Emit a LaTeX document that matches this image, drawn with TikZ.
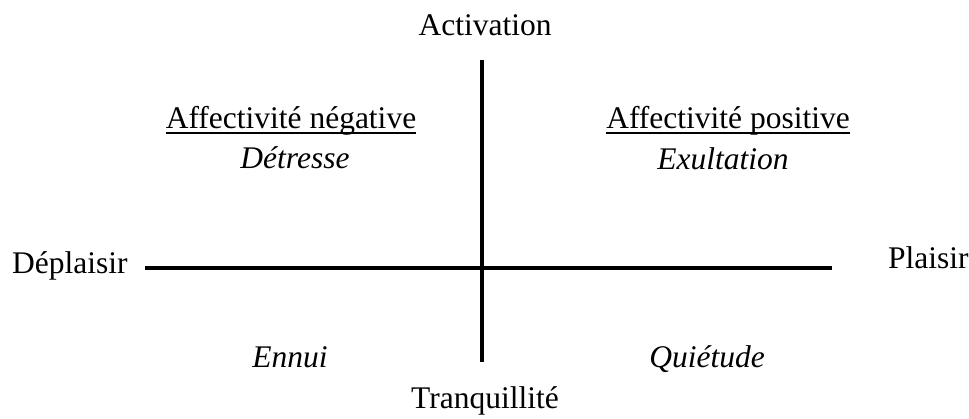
\documentclass[tikz,border=0pt]{standalone}
\usepackage{fontspec}
\setmainfont{Liberation Serif}
\begin{document}
\begin{tikzpicture}[x=1pt,y=-1pt,
  label/.style={inner sep=0pt,anchor=base,font=\fontsize{31.5}{36}\selectfont},
  mood/.style={label,font=\fontsize{31.5}{36}\selectfont\itshape},
  axis/.style={line width=3.5pt},
  uline/.style={line width=1.3pt}]
\useasboundingbox[fill=white] (0,0) rectangle (969,418);

% axis end points
\coordinate (top) at (482,60);
\coordinate (bottom) at (482,362);
\coordinate (left) at (145,268);
\coordinate (right) at (832,268);
\draw[axis] (top) -- (bottom);
\draw[axis] (left) -- (right);

% axis labels
\node[label] (act) at (485,35) {Activation};
\node[label] (tra) at (485,408) {Tranquillité};
\node[label,anchor=base west] (dep) at (12,273) {Déplaisir};
\node[label,anchor=base west] (pla) at (888,268) {Plaisir};

% quadrant headings
\node[label] (neg) at (291,128) {Affectivité négative};
\node[label] (pos) at (728,128) {Affectivité positive};
\draw[uline] ([yshift=-5pt]neg.base west) -- ([yshift=-5pt]neg.base east);
\draw[uline] ([yshift=-5pt]pos.base west) -- ([yshift=-5pt]pos.base east);

% quadrant moods
\node[mood] (det) at (295,168) {Détresse};
\node[mood] (exu) at (723,169) {Exultation};
\node[mood] (enn) at (290,367) {Ennui};
\node[mood] (qui) at (707,367) {Quiétude};
\end{tikzpicture}
\end{document}
